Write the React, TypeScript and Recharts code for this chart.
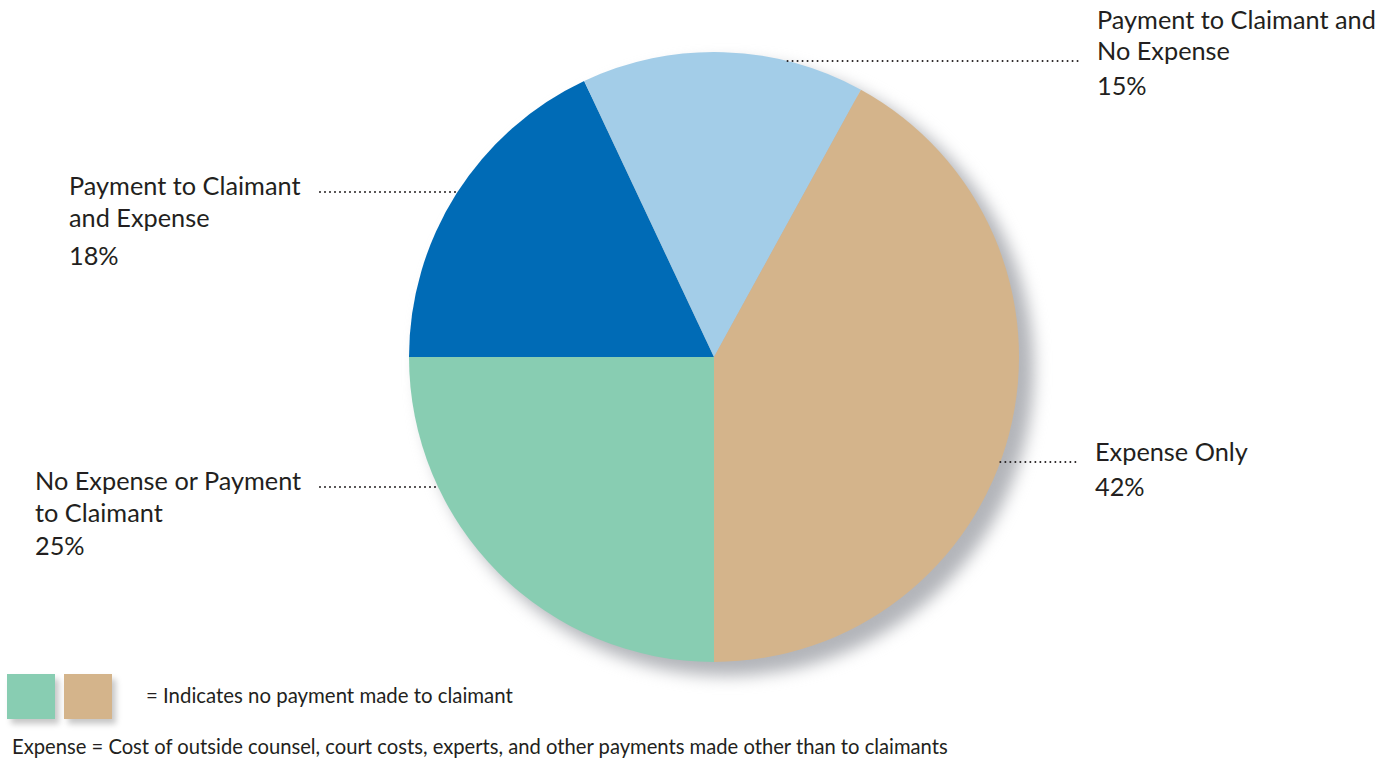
import { PieChart, Pie, Cell } from "recharts";

// slices run clockwise from 9 o'clock
const categories = [
  "Payment to Claimant and Expense",
  "Payment to Claimant and No Expense",
  "Expense Only",
  "No Expense or Payment to Claimant",
];
const shares = [18, 15, 42, 25];
const noPaymentToClaimant = [false, false, true, true];

// how each category name is wrapped next to the pie
const labelLines = [
  ["Payment to Claimant", "and Expense"],
  ["Payment to Claimant and", "No Expense"],
  ["Expense Only"],
  ["No Expense or Payment", "to Claimant"],
];

const legendText = "= Indicates no payment made to claimant";
const footnote =
  "Expense = Cost of outside counsel, court costs, experts, and other payments made other than to claimants";

const sliceColors = ["#006bb6", "#a3cde8", "#d4b48b", "#88cdb2"];
const shadowColor = "#b3b5ba";
const textColor = "#231f20";
const font = "Lato, 'Open Sans', sans-serif";

// label placement: dy is the leader line offset from the pie centre,
// baselines are text baselines relative to the leader line
const labelLayout = [
  { side: "left", textX: 69, lineEnd: 320, dy: -165, baselines: [3, 35, 73] },
  { side: "right", textX: 1097, lineEnd: 1080, dy: -296, baselines: [-32, -1, 34] },
  { side: "right", textX: 1095, lineEnd: 1080, dy: 105, baselines: [-1, 34] },
  { side: "left", textX: 35, lineEnd: 320, dy: 130, baselines: [3, 35, 68] },
];

const W = 1395;
const H = 761;
const CX = 714;
const CY = 357;
const R = 305;

const chartData = categories.map((name, i) => ({
  name,
  value: shares[i],
  noPayment: noPaymentToClaimant[i],
}));

const renderLabel = (props: any) => {
  const { cx, cy, outerRadius, index, value } = props;
  const l = labelLayout[index];
  const y = cy + l.dy;
  const edge = Math.sqrt(outerRadius * outerRadius - l.dy * l.dy);
  const x1 = l.side === "left" ? l.lineEnd : cx + edge;
  const x2 = l.side === "left" ? cx - edge : l.lineEnd;
  const lines = [...labelLines[index], `${value}%`];
  return (
    <g key={`label-${index}`}>
      <line
        x1={x1}
        x2={x2}
        y1={y}
        y2={y}
        stroke={textColor}
        strokeWidth={2}
        strokeDasharray="0 5"
        strokeLinecap="round"
      />
      <text fontFamily={font} fontSize={25.3} fill={textColor}>
        {lines.map((t, i) => (
          <tspan key={i} x={l.textX} y={y + l.baselines[i]}>
            {t}
          </tspan>
        ))}
      </text>
    </g>
  );
};

// legend shows the no-payment slices, last slice first
const legendSwatches = chartData
  .map((d, i) => ({ ...d, color: sliceColors[i] }))
  .filter((d) => d.noPayment)
  .reverse();

export default function App() {
  return (
    <div
      style={{
        position: "absolute",
        left: 0,
        top: 0,
        width: W,
        height: H,
        background: "#fff",
        fontFamily: font,
        color: textColor,
      }}
    >
      {/* soft drop shadow behind the pie */}
      <div style={{ position: "absolute", left: 0, top: 0, filter: "blur(8px)" }}>
        <PieChart width={W} height={H} margin={{ top: 0, right: 0, bottom: 0, left: 0 }}>
          <Pie
            data={chartData}
            dataKey="value"
            cx={CX + 13}
            cy={CY + 12}
            outerRadius={R + 2}
            startAngle={180}
            endAngle={-180}
            stroke="none"
            isAnimationActive={false}
          >
            {chartData.map((d, i) => (
              <Cell key={i} fill={shadowColor} />
            ))}
          </Pie>
        </PieChart>
      </div>

      <div style={{ position: "absolute", left: 0, top: 0 }}>
        <PieChart width={W} height={H} margin={{ top: 0, right: 0, bottom: 0, left: 0 }}>
          <Pie
            data={chartData}
            dataKey="value"
            cx={CX}
            cy={CY}
            outerRadius={R}
            startAngle={180}
            endAngle={-180}
            stroke="none"
            label={renderLabel}
            labelLine={false}
            isAnimationActive={false}
          >
            {chartData.map((d, i) => (
              <Cell key={i} fill={sliceColors[i]} />
            ))}
          </Pie>
        </PieChart>
      </div>

      {legendSwatches.map((d, k) => (
        <div
          key={d.name}
          style={{
            position: "absolute",
            left: 7 + k * 57,
            top: 674,
            width: 48,
            height: 45,
            background: d.color,
            boxShadow: "4px 5px 6px rgba(0,0,0,0.22)",
          }}
        />
      ))}
      <div
        style={{
          position: "absolute",
          left: 146,
          top: 685,
          fontSize: 20.4,
          lineHeight: "20.4px",
          whiteSpace: "nowrap",
        }}
      >
        {legendText}
      </div>
      <div
        style={{
          position: "absolute",
          left: 12,
          top: 736,
          fontSize: 20.2,
          lineHeight: "20.2px",
          whiteSpace: "nowrap",
        }}
      >
        {footnote}
      </div>
    </div>
  );
}
